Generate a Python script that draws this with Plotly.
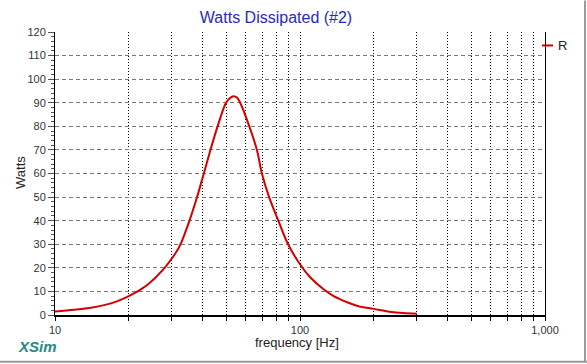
import plotly.graph_objects as go

# Data
freq_hz = [10, 12, 14, 16, 18, 20, 22, 24, 27.5, 30, 31.4, 32.7, 34, 35.4, 38, 40.5, 43.1,
           46.1, 49.9, 51.8, 53.6, 55.3, 57, 62.1, 66.7, 69.9, 74.8, 81.6, 89.4, 100, 110,
           124.5, 136.7, 155, 175, 200, 232, 263, 300]
watts_r = [1.5, 2.2, 3.1, 4.3, 5.9, 8.0, 10.3, 13, 19, 24, 27, 30.5, 35, 40, 50, 60, 70,
           80, 90, 92, 92.8, 92.2, 90, 80, 70, 60, 50, 40, 30, 21.5, 16,
           11, 8.1, 5.5, 3.6, 2.6, 1.4, 0.8, 0.5]

x_major_ticks = [10, 100, 1000]
x_major_text = ["10", "100", "1,000"]
x_minor_ticks = [20, 30, 40, 50, 60, 70, 80, 90, 200, 300, 400, 500, 600, 700, 800, 900]
y_ticks = list(range(0, 121, 10))

FONT = "Arial, Liberation Sans, sans-serif"

# plot area pixel geometry
L, R, T, B = 55, 545, 31.5, 315.5
W, H = R - L, B - T


def px(x):
    return (x - L) / W


def py(y):
    return (B - y) / H


fig = go.Figure()
fig.add_trace(go.Scatter(
    x=freq_hz, y=watts_r, mode="lines", name="R",
    line=dict(color="#d40000", width=2, shape="spline", smoothing=1.0),
    showlegend=False, hoverinfo="skip",
))

fig.update_layout(
    width=587, height=364,
    margin=dict(l=L, r=587 - R, t=T, b=364 - B, autoexpand=False),
    paper_bgcolor="white", plot_bgcolor="white",
    font=dict(family=FONT, size=11, color="#333333"),
    title=dict(text="Watts Dissipated (#2)", x=276 / 587, xref="container",
               xanchor="center", y=1 - 17 / 364, yref="container", yanchor="middle",
               font=dict(family=FONT, size=16, color="#2a2ac0")),
    xaxis=dict(
        type="log", range=[1, 3],
        tickmode="array", tickvals=x_major_ticks, ticktext=x_major_text,
        ticks="outside", ticklen=4, tickcolor="black",
        showgrid=True, gridcolor="black", griddash="1px,2px", gridwidth=1,
        minor=dict(tickmode="array", tickvals=x_minor_ticks, ticks="outside",
                   ticklen=4, tickcolor="black", showgrid=True,
                   gridcolor="black", griddash="1px,2px", gridwidth=1),
        showline=True, linecolor="black", linewidth=2, mirror=False,
        zeroline=False, tickfont=dict(size=11, color="#333333"),
        automargin=False,
    ),
    yaxis=dict(
        range=[0, 120], tickmode="array", tickvals=y_ticks,
        ticks="outside", ticklen=6, tickcolor="#555555",
        showgrid=True, gridcolor="#7a7a7a", griddash="4px,3px", gridwidth=1,
        minor=dict(dtick=2, ticks="outside", ticklen=3, tickcolor="#555555", showgrid=False),
        showline=True, linecolor="black", linewidth=1, mirror=True,
        zeroline=False, tickfont=dict(size=11, color="#333333"),
        automargin=False,
    ),
)


def note(x, y, text, size, color, angle=0, xanchor="center"):
    fig.add_annotation(x=px(x), y=py(y), xref="paper", yref="paper", text=text,
                       showarrow=False, textangle=angle, xanchor=xanchor, yanchor="middle",
                       font=dict(family=FONT, size=size, color=color))


# axis titles, brand, legend
note(297, 343, "frequency [Hz]", 13, "#222222")
note(20, 173, "Watts", 13, "#222222", angle=-90)
note(37.5, 347, "<b><i>XSim</i></b>", 15, "#248a84")
fig.add_shape(type="line", xref="paper", yref="paper",
              x0=px(542), x1=px(553), y0=py(45), y1=py(45),
              line=dict(color="#d40000", width=2))
note(556, 45, "R", 13, "#222222", xanchor="left")

# light grey panel edge (right and bottom)
fig.add_shape(type="line", xref="paper", yref="paper",
              x0=px(0), x1=px(587), y0=py(362.5), y1=py(362.5),
              line=dict(color="#9a9a9a", width=2))
fig.add_shape(type="line", xref="paper", yref="paper",
              x0=px(585), x1=px(585), y0=py(0), y1=py(363),
              line=dict(color="#9a9a9a", width=2))

fig.write_html("out.html", config={"displayModeBar": False},
               post_script="document.body.style.margin='0';document.body.style.overflow='hidden';")
